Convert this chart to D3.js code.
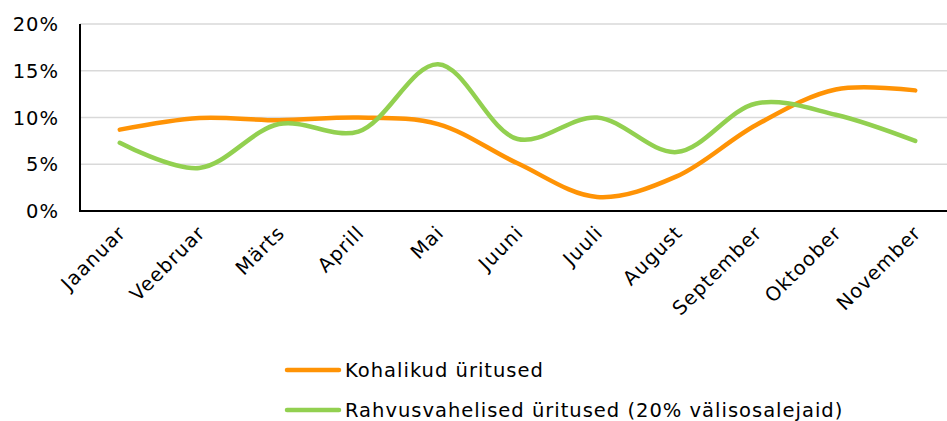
<!DOCTYPE html>
<html><head><meta charset="utf-8">
<script src="https://cdn.jsdelivr.net/npm/d3@7"></script>
<style>body{margin:0;background:#fff}svg{display:block}text{font-family:"DejaVu Sans",Verdana,sans-serif;fill:#000;letter-spacing:1px}</style>
</head><body><svg id="c" width="947" height="421"></svg>
<script>
const months = ["Jaanuar","Veebruar","Märts","Aprill","Mai","Juuni","Juuli","August","September","Oktoober","November"];
const local = [8.7,9.95,9.7,10.0,9.3,5.1,1.5,3.7,9.2,13.0,12.9];
const intl = [7.3,4.6,9.3,8.5,15.7,7.7,10.0,6.3,11.5,10.3,7.5];
const yTicks = [0,5,10,15,20];
const seriesNames = ["Kohalikud üritused","Rahvusvahelised üritused (20% välisosalejaid)"];
const colors = ["#FF9305","#92D050"];

const svg = d3.select("#c");
const x = d3.scaleBand().domain(months).range([80,955]);
const y = d3.scaleLinear().domain([0,20]).range([211,24]);

svg.append("g").selectAll("line").data(yTicks.slice(1)).join("line")
  .attr("x1",80).attr("x2",947).attr("y1",d=>y(d)).attr("y2",d=>y(d))
  .attr("stroke","#D9D9D9").attr("stroke-width",1.5);

svg.append("g").selectAll("text").data(yTicks).join("text")
  .attr("x",59).attr("y",d=>y(d)).attr("dy","0.36em").attr("text-anchor","end")
  .attr("font-size",19.5).text(d=>d+"%");

svg.append("line").attr("x1",80).attr("x2",80).attr("y1",24).attr("y2",211).attr("stroke","#000").attr("stroke-width",2);
svg.append("line").attr("x1",79).attr("x2",947).attr("y1",211).attr("y2",211).attr("stroke","#000").attr("stroke-width",2);

svg.append("g").selectAll("text").data(months).join("text")
  .attr("text-anchor","end").attr("font-size",19.5)
  .attr("transform",d=>`translate(${x(d)+x.bandwidth()/2+7},${234}) rotate(-45)`)
  .text(d=>d);

const line = d3.line().x((d,i)=>x(months[i])+x.bandwidth()/2).y(d=>y(d)).curve(d3.curveCatmullRom.alpha(0.5));
[local,intl].forEach((s,k)=>{
  svg.append("path").datum(s).attr("d",line).attr("fill","none")
    .attr("stroke",colors[k]).attr("stroke-width",4.5).attr("stroke-linecap","round");
});

const lg = svg.append("g").selectAll("g").data(seriesNames).join("g")
  .attr("transform",(d,i)=>`translate(0,${370+i*40})`);
lg.append("line").attr("x1",287).attr("x2",339).attr("y1",0).attr("y2",0)
  .attr("stroke",(d,i)=>colors[i]).attr("stroke-width",4.5).attr("stroke-linecap","round");
lg.append("text").attr("x",345).attr("y",0).attr("dy","0.36em").attr("font-size",19.5).text(d=>d);
</script></body></html>
